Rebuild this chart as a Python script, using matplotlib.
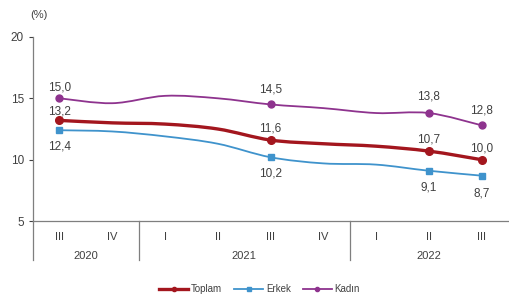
import numpy as np
import matplotlib
matplotlib.use("Agg")
import matplotlib.pyplot as plt
from matplotlib.path import Path
from matplotlib.patches import PathPatch
from matplotlib.lines import Line2D

plt.rcParams['font.family'] = ['Liberation Sans', 'DejaVu Sans']

# quarters 2020-III .. 2022-III
quarters = ["III", "IV", "I", "II", "III", "IV", "I", "II", "III"]
years = ["2020", "2021", "2022"]
year_sizes = [2, 4, 3]

toplam = [13.2, 13.0, 12.9, 12.5, 11.6, 11.3, 11.1, 10.7, 10.0]
erkek = [12.4, 12.3, 11.9, 11.3, 10.2, 9.7, 9.6, 9.1, 8.7]
kadin = [15.0, 14.6, 15.2, 15.0, 14.5, 14.2, 13.8, 13.8, 12.8]

# points that carry a marker and a value label
labelled = [0, 4, 7, 8]

# name, values, colour, line width, marker, marker size, label offsets (pt)
series = [
    ("Toplam", toplam, "#A3161E", 2.4, "o", 5.5, [6.5, 8, 8.5, 8]),
    ("Erkek", erkek, "#3F93CC", 1.3, "s", 5.0, [-11.5, -12, -12, -12.5]),
    ("Kadın", kadin, "#8E338E", 1.3, "o", 5.0, [8, 11, 12, 11]),
]

fontsize = 8.5
text_color = "#404040"


def smooth_path(x, y):
    # catmull-rom style bezier segments, like office "smoothed line"
    pts = np.column_stack([x, y]).astype(float)
    n = len(pts)
    verts = [pts[0]]
    codes = [Path.MOVETO]
    for i in range(n - 1):
        p0 = pts[max(i - 1, 0)]
        p1 = pts[i]
        p2 = pts[i + 1]
        p3 = pts[min(i + 2, n - 1)]
        c1 = p1 + (p2 - p0) / 6.0
        c2 = p2 - (p3 - p1) / 6.0
        verts += [c1, c2, p2]
        codes += [Path.CURVE4] * 3
    return Path(verts, codes)


fig = plt.figure(figsize=(5.09, 3.0), dpi=100)
ax = fig.add_axes([0.065, 0.263, 0.933, 0.614])

x = np.arange(len(quarters))
handles = []
for name, vals, color, lw, marker, ms, offs in series:
    patch = PathPatch(smooth_path(x, vals), facecolor="none", edgecolor=color,
                      lw=lw, capstyle="round", joinstyle="round", zorder=3)
    ax.add_patch(patch)
    ax.plot(x[labelled], np.array(vals)[labelled], linestyle="none", marker=marker,
            ms=ms, color=color, zorder=4)
    for i, dy in zip(labelled, offs):
        ax.annotate(f"{vals[i]:.1f}".replace(".", ","), (x[i], vals[i]),
                    xytext=(0, dy), textcoords="offset points", ha="center",
                    va="center", fontsize=fontsize, color=text_color)
    handles.append(Line2D([], [], color=color, lw=lw, marker=marker, ms=3))

ax.set_xlim(-0.5, len(quarters) - 0.5)
ax.set_ylim(5, 20)
ax.set_yticks([5, 10, 15, 20])
ax.tick_params(axis="y", labelsize=fontsize, colors=text_color, length=3, direction="out")
ax.set_xticks([])

for s in ["top", "right"]:
    ax.spines[s].set_visible(False)
for s in ["left", "bottom"]:
    ax.spines[s].set_color("#7f7f7f")
    ax.spines[s].set_linewidth(0.9)

# category labels: quarters and years below the axis
trans = ax.get_xaxis_transform()
for i, q in enumerate(quarters):
    ax.text(i, -0.06, q, transform=trans, ha="center", va="top",
            fontsize=fontsize - 0.5, color=text_color)

bounds = np.concatenate([[0], np.cumsum(year_sizes)]) - 0.5
for b in bounds[:-1]:
    ax.plot([b, b], [0, -0.21], transform=trans, color="#7f7f7f", lw=0.9, clip_on=False)
for k, yr in enumerate(years):
    mid = (bounds[k] + bounds[k + 1]) / 2
    ax.text(mid, -0.16, yr, transform=trans, ha="center", va="top",
            fontsize=fontsize - 0.5, color=text_color)

fig.text(0.06, 0.95, "(%)", fontsize=fontsize - 0.5, color=text_color, ha="left", va="center")

fig.legend(handles, [s[0] for s in series], loc="center", bbox_to_anchor=(0.51, 0.035),
           ncol=3, frameon=False, fontsize=fontsize - 1.5, handlelength=3,
           columnspacing=1.2, handletextpad=0.3, labelcolor=text_color)

fig.savefig("out.png", dpi=100)
